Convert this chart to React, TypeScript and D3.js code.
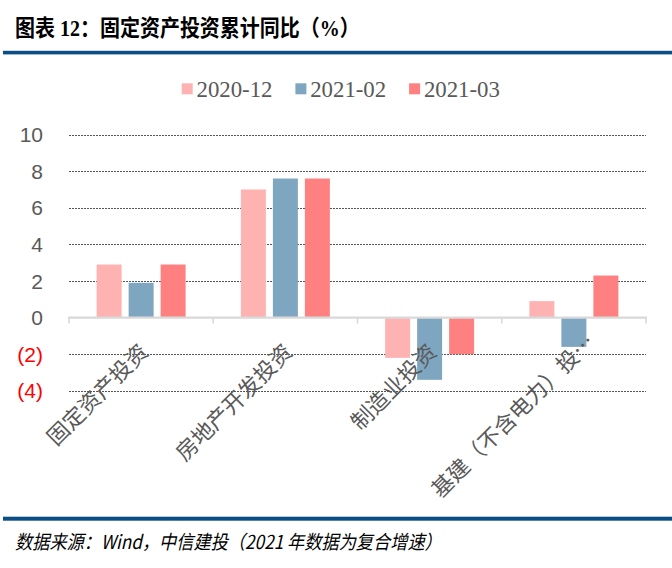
import React from "react";
import * as d3 from "d3";

const categories = ["固定资产投资", "房地产开发投资", "制造业投资", "基建（不含电力）投…"];
const seriesNames = ["2020-12", "2021-02", "2021-03"];
const v202012 = [2.9, 7.0, -2.2, 0.9];
const v202102 = [1.9, 7.6, -3.4, -1.6];
const v202103 = [2.9, 7.6, -2.0, 2.3];
const yTicks = [-4, -2, 0, 2, 4, 6, 8, 10];
const colors = ["#FFB2B2", "#7FA6C0", "#FF8080"];

const W = 672;
const H = 568;

export default function App() {
  const series = [v202012, v202102, v202103];
  const x = d3.scaleBand<string>().domain(categories).range([69, 646]).paddingInner(0).paddingOuter(0);
  const xs = d3
    .scaleBand<string>()
    .domain(seriesNames)
    .range([0, x.bandwidth()])
    .paddingInner(0.219)
    .paddingOuter(0.864);
  const y = d3.scaleLinear().domain([-4, 10]).range([390.8, 134.6]);
  const fmt = (v: number) => (v < 0 ? `(${Math.abs(v)})` : `${v}`);
  const gray = "#595959";

  return (
    <svg width={W} height={H} style={{ position: "absolute", left: 0, top: 0, background: "#fff" }}>
      <rect x={0} y={0} width={W} height={H} fill="#fff" />
      {/* Title */}
      <g transform="translate(15,35.5) scale(1,1.12)">
        <text
          x={0}
          y={0}
          fontFamily="'Liberation Serif','Noto Sans CJK SC'"
          fontWeight="bold"
          fontSize={20}
          fill="#000"
        >
          图表 12：固定资产投资累计同比（%）
        </text>
      </g>
      <rect x={3} y={50.8} width={W - 3} height={3.6} fill="#0B4E86" />

      {/* Legend */}
      {seriesNames.map((s, i) => (
        <g key={s}>
          <rect x={181.7 + i * 113.7} y={83.3} width={11} height={11} fill={colors[i]} />
          <text
            x={196.5 + i * 113.7}
            y={97}
            fontFamily="'Liberation Serif'"
            fontSize={22.8}
            fill={gray}
          >
            {s}
          </text>
        </g>
      ))}

      {/* Grid */}
      {yTicks
        .filter((t) => t !== 0)
        .map((t) => (
          <line
            key={t}
            x1={69}
            x2={646}
            y1={Math.round(y(t)) + 0.5}
            y2={Math.round(y(t)) + 0.5}
            stroke="#555"
            strokeWidth={1}
            strokeDasharray="2 1"
          />
        ))}

      {/* Y labels */}
      {yTicks.map((t) => (
        <text
          key={t}
          x={43}
          y={y(t)}
          dy="0.36em"
          textAnchor="end"
          fontFamily="'Liberation Sans', Arial"
          fontSize={21}
          fill={t < 0 ? "#FF0000" : gray}
        >
          {fmt(t)}
        </text>
      ))}

      {/* Bars */}
      {categories.map((c, ci) => (
        <g key={c} transform={`translate(${x(c)},0)`}>
          {series.map((vals, si) => {
            const v = vals[ci];
            const y0 = y(0);
            const y1 = y(v);
            return (
              <rect
                key={si}
                x={xs(seriesNames[si])}
                y={Math.min(y0, y1)}
                width={xs.bandwidth()}
                height={Math.abs(y1 - y0)}
                fill={colors[si]}
              />
            );
          })}
        </g>
      ))}

      {/* Axis line at 0 */}
      <line x1={68} x2={647} y1={y(0)} y2={y(0)} stroke="#D9D9D9" strokeWidth={2.2} />
      {[...categories.map((c) => x(c) as number), 646].map((tx, i) => (
        <line key={i} x1={tx} x2={tx} y1={y(0)} y2={y(0) + 6} stroke="#D9D9D9" strokeWidth={1.6} />
      ))}

      {/* Category labels */}
      {categories.map((c) => {
        const cx = (x(c) as number) + x.bandwidth() / 2;
        const truncated = c.endsWith("…");
        const ax = cx + 3 + (truncated ? 14 : 0);
        const ay = 348 + (truncated ? -10 : 0);
        return (
          <text
            key={c}
            transform={`translate(${ax},${ay}) rotate(-45)`}
            textAnchor="end"
            dy="0.35em"
            fontFamily="'Noto Sans CJK SC'"
            fontSize={22}
            fill={gray}
          >
            {c}
          </text>
        );
      })}

      {/* Bottom rule and source */}
      <rect x={3} y={516.7} width={W - 3} height={4} fill="#0B4E86" />
      <g transform="translate(15,549) scale(1,1.12)">
        <text
          x={0}
          y={0}
          fontFamily="'Noto Sans CJK SC'"
          fontStyle="italic"
          fontSize={17.2}
          fill="#000"
        >
          数据来源：Wind，中信建投（2021 年数据为复合增速）
        </text>
      </g>
    </svg>
  );
}
